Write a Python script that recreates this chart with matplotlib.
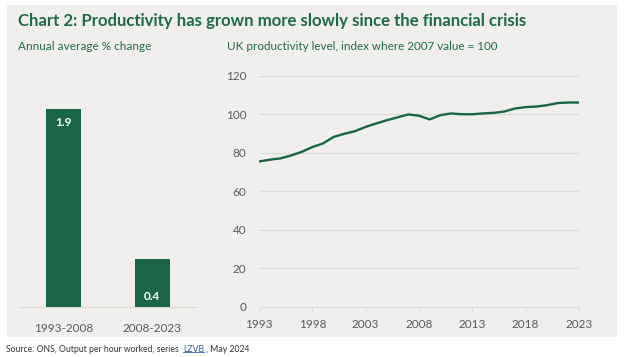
import matplotlib
matplotlib.use('Agg')
import matplotlib.pyplot as plt
from matplotlib.patches import Rectangle

plt.rcParams['font.family'] = ['Lato', 'DejaVu Sans']

# 数据
periods = ['1993-2008', '2008-2023']
growth = [1.9, 0.46]
growth_labels = ['1.9', '0.4']

years = list(range(1993, 2024))
index = [75.5, 76.4, 77.1, 78.6, 80.5, 83.0, 84.9, 88.3, 89.9, 91.3,
         93.5, 95.3, 97.0, 98.5, 100.0, 99.3, 97.4, 99.6, 100.5, 100.1,
         100.1, 100.5, 100.8, 101.5, 103.1, 103.8, 104.1, 104.8, 105.9, 106.2,
         106.2]

GREEN = '#1a6546'
TITLE_GREEN = '#1f6b47'
GREY_TXT = '#5a5a5a'
GRID = '#dddbd8'
PANEL = '#f0efed'

W, H = 624, 357
fig = plt.figure(figsize=(W / 100, H / 100), dpi=100)
fig.patch.set_facecolor('white')

def fx(px):
    return px / W

def fy(py):
    return 1 - py / H

# 背景面板
fig.patches.append(Rectangle((fx(7), fy(337)), fx(617) - fx(7), fy(5) - fy(337),
                             transform=fig.transFigure, facecolor=PANEL,
                             edgecolor='none', zorder=-10))

fig.text(fx(18), fy(21), 'Chart 2: Productivity has grown more slowly since the financial crisis',
         fontsize=12.1, fontweight='bold', color=TITLE_GREEN, va='center', ha='left')
fig.text(fx(18), fy(46), 'Annual average % change', fontsize=8.5, color=TITLE_GREEN,
         va='center', ha='left')
fig.text(fx(227), fy(46), 'UK productivity level, index where 2007 value = 100', fontsize=8.4,
         color=TITLE_GREEN, va='center', ha='left')

bottom = fy(306.5)
height = 230.5 / H

# 柱状图
ax1 = fig.add_axes([fx(19.3), bottom, fx(196.7) - fx(19.3), height])
ax1.set_facecolor('none')
ax1.bar(range(len(periods)), growth, width=0.4, color=GREEN, zorder=3)
ax1.set_xlim(-0.5, 1.5)
ax1.set_ylim(0, 230.5 / 104.2)
ax1.set_xticks(range(len(periods)))
ax1.set_xticklabels(periods, fontsize=8.5, color=GREY_TXT)
ax1.tick_params(axis='x', length=0, pad=12)
ax1.set_yticks([])
for s in ['top', 'right', 'left']:
    ax1.spines[s].set_visible(False)
ax1.spines['bottom'].set_color(GRID)
ax1.spines['bottom'].set_linewidth(1)
offsets = [-14, -38]
for i, (v, lab) in enumerate(zip(growth, growth_labels)):
    ax1.annotate(lab, (i, v), xytext=(0, offsets[i] * 0.72), textcoords='offset points',
                 ha='center', va='center', color='white', fontsize=8.5, fontweight='bold')

# 折线图
ax2 = fig.add_axes([fx(259), bottom, fx(579) - fx(259), height])
ax2.set_facecolor('none')
ax2.plot(years, index, color=GREEN, linewidth=1.7, zorder=3, solid_capstyle='butt')
ax2.set_xlim(1993, 2023)
ax2.set_ylim(0, 120)
ax2.set_yticks(range(0, 121, 20))
ax2.set_xticks(range(1993, 2024, 5))
ax2.grid(axis='y', color=GRID, linewidth=0.8, zorder=0)
ax2.tick_params(axis='y', length=0, pad=9, labelsize=8.5, labelcolor=GREY_TXT)
ax2.tick_params(axis='x', length=3, width=0.8, color=GRID, pad=6, labelsize=8.5,
                labelcolor=GREY_TXT)
for s in ['top', 'right', 'left']:
    ax2.spines[s].set_visible(False)
ax2.spines['bottom'].set_color(GRID)
ax2.spines['bottom'].set_linewidth(0.8)

# 来源
renderer = fig.canvas.get_renderer()
parts = [('Source: ONS, Output per hour worked, series ', '#333333', False),
         ('LZVB', '#2f5fb3', True),
         (', May 2024', '#333333', False)]
x = fx(6)
for txt, col, ul in parts:
    t = fig.text(x, fy(349), txt, fontsize=6.2, color=col, va='center', ha='left')
    bb = t.get_window_extent(renderer)
    if ul:
        fig.lines.append(plt.Line2D([bb.x0 / W, bb.x1 / W], [bb.y0 / H + 0.004] * 2,
                                    transform=fig.transFigure, color=col, linewidth=0.6))
        x = bb.x1 / W + 0.003
    else:
        x = bb.x1 / W
        if txt.endswith(' '):
            x += 0.003

fig.savefig('out.png', dpi=100)
